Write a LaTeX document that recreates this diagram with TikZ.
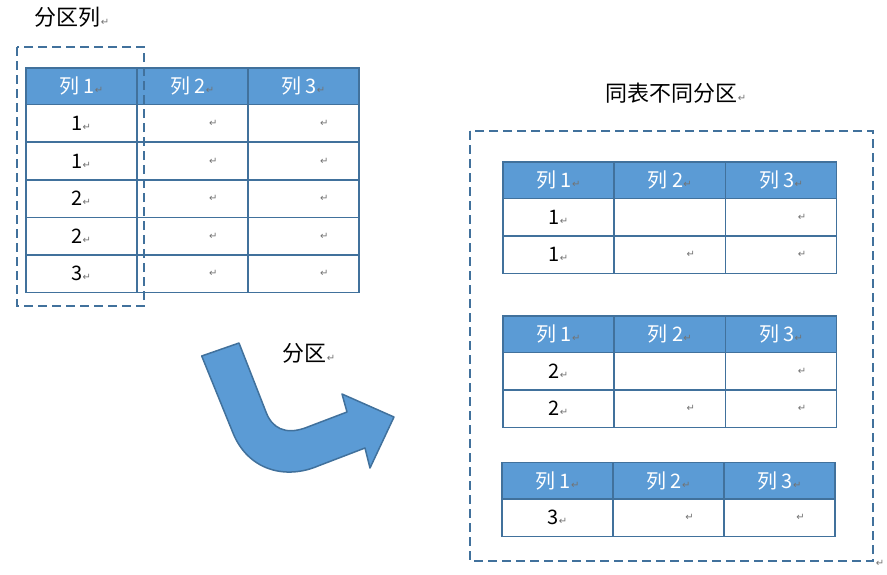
\documentclass[tikz,border=0pt]{standalone}
\usepackage{fontspec}
\setmainfont{Noto Sans CJK SC}
\newfontfamily\markfont{DejaVu Sans}
\usepackage{xcolor}
\usepackage{tikz}
\usetikzlibrary{positioning}
\definecolor{tableBlue}{HTML}{41719C}
\definecolor{headBlue}{HTML}{5B9BD5}
\newcommand{\retmark}{{\markfont\fontsize{10}{10}\selectfont\textcolor{gray!90!black}{↵}}}
\newcommand{\cellmark}{\hspace*{42pt}\retmark}

\begin{document}
\begin{tikzpicture}[
  x=1pt, y=-1pt,
  baseCell/.style={rectangle, draw=tableBlue, line width=1.6pt, outer sep=0pt, inner sep=0pt, minimum width=111pt},
  headCell/.style={baseCell, fill=headBlue, minimum height=36.6pt, anchor=north west, text=white, font=\fontsize{20}{22}\selectfont},
  bodyCell/.style={baseCell, fill=white, minimum height=37.6pt, font=\fontsize{20}{22}\selectfont},
  zoneBox/.style={draw=tableBlue, line width=1.6pt, dash pattern=on 9pt off 5pt},
  caption/.style={font=\fontsize{22}{24}\selectfont, inner sep=0pt},
  bigArrow/.style={fill=headBlue, draw=tableBlue, line width=1.5pt, line join=round}
]
\useasboundingbox (0,0) rectangle (887,574);

% source table
\foreach \c/\x in {1/25.7,2/136.7,3/247.7}
  \node[headCell] (L-0-\c) at (\x,68) {列 \c\retmark};
\foreach \v [count=\r] in {1,1,2,2,3} {
  \pgfmathtruncatemacro{\p}{\r-1}
  \node[bodyCell, below=0pt of L-\p-1] (L-\r-1) {\v\retmark};
  \node[bodyCell, below=0pt of L-\p-2] (L-\r-2) {\cellmark};
  \node[bodyCell, below=0pt of L-\p-3] (L-\r-3) {\cellmark};
}
\draw[zoneBox] (17,47) rectangle (144,306);
\node[caption] (partCol) at (72,17) {分区列\retmark};

% partition arrow
\draw[bigArrow] (201.7,356) -- (233,433) .. controls (248,470) and (285,480) .. (318,466)
  -- (365,448) -- (370,468) -- (394,417) -- (342,394) -- (347,412)
  -- (305,428) .. controls (285,435) and (272,428) .. (266,412) -- (239,343) -- cycle;
\node[caption] (partLbl) at (309,353) {分区\retmark};

% partition 1
\foreach \c/\x in {1/503,2/614.3,3/725.6}
  \node[headCell] (A-0-\c) at (\x,161.7) {列 \c\retmark};
\node[bodyCell, below=0pt of A-0-1] (A-1-1) {1\retmark};
\node[bodyCell, below=0pt of A-0-2] (A-1-2) {};
\node[bodyCell, below=0pt of A-0-3] (A-1-3) {\cellmark};
\node[bodyCell, below=0pt of A-1-1] (A-2-1) {1\retmark};
\node[bodyCell, below=0pt of A-1-2] (A-2-2) {\cellmark};
\node[bodyCell, below=0pt of A-1-3] (A-2-3) {\cellmark};

% partition 2
\foreach \c/\x in {1/503,2/614.3,3/725.6}
  \node[headCell] (B-0-\c) at (\x,315.7) {列 \c\retmark};
\node[bodyCell, below=0pt of B-0-1] (B-1-1) {2\retmark};
\node[bodyCell, below=0pt of B-0-2] (B-1-2) {};
\node[bodyCell, below=0pt of B-0-3] (B-1-3) {\cellmark};
\node[bodyCell, below=0pt of B-1-1] (B-2-1) {2\retmark};
\node[bodyCell, below=0pt of B-1-2] (B-2-2) {\cellmark};
\node[bodyCell, below=0pt of B-1-3] (B-2-3) {\cellmark};

% partition 3
\foreach \c/\x in {1/502,2/613,3/724}
  \node[headCell] (C-0-\c) at (\x,462.3) {列 \c\retmark};
\node[bodyCell, below=0pt of C-0-1] (C-1-1) {3\retmark};
\node[bodyCell, below=0pt of C-0-2] (C-1-2) {\cellmark};
\node[bodyCell, below=0pt of C-0-3] (C-1-3) {\cellmark};

\draw[zoneBox] (470,131) rectangle (873,561);
\node[caption] (sameTab) at (676,93) {同表不同分区\retmark};
\node[inner sep=0pt] (endMark) at (880,563) {\retmark};
\end{tikzpicture}
\end{document}
